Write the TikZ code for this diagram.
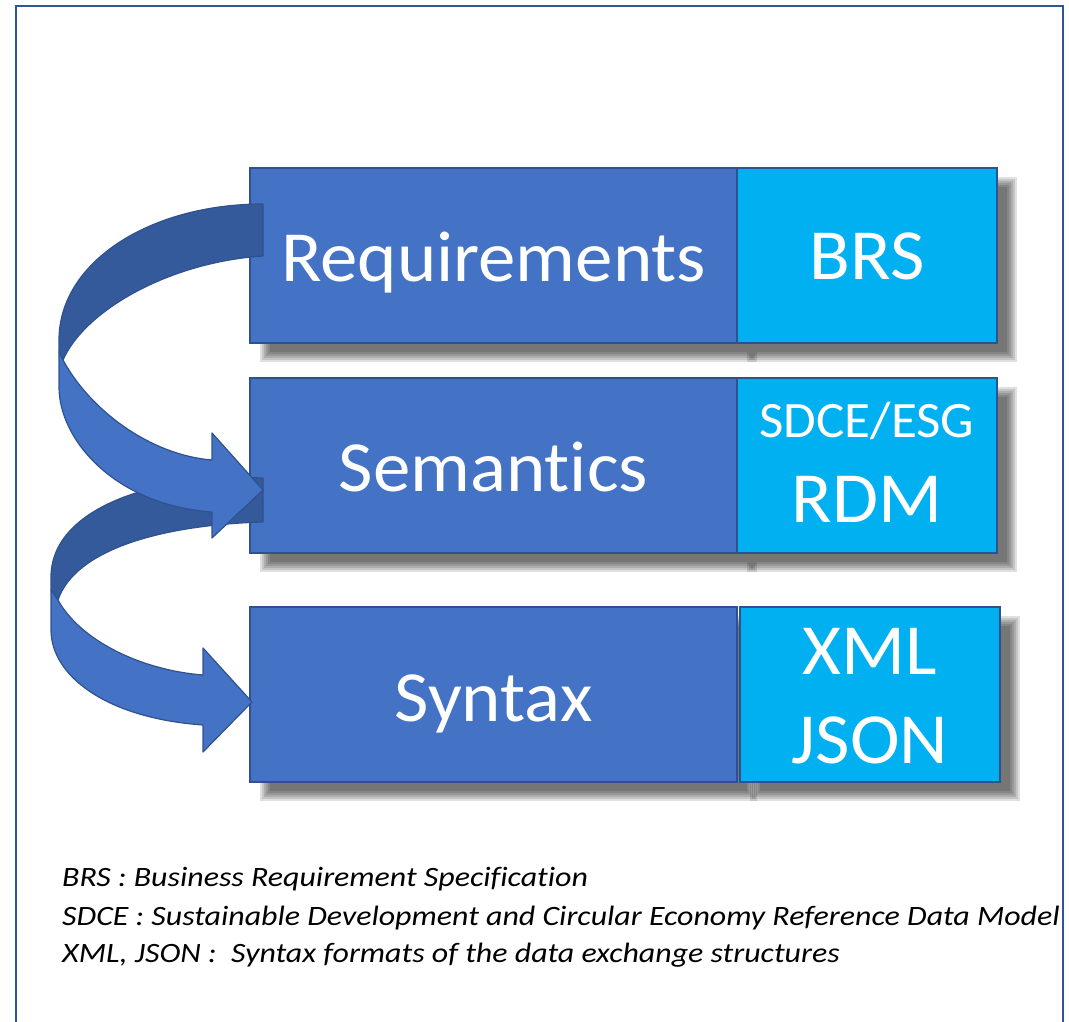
\documentclass[tikz,border=0pt]{standalone}
\usepackage{fontspec}
\setmainfont{Carlito}[Ligatures={NoCommon,NoContextual}, FakeStretch=1.04]
\newfontfamily\notefont{Carlito}[Ligatures={NoCommon,NoContextual}, FakeStretch=1.14]
\usetikzlibrary{calc,backgrounds}

\definecolor{layerblue}{HTML}{4472C4}
\definecolor{codeblue}{HTML}{00B0F0}
\definecolor{edgeblue}{HTML}{2F528F}
\definecolor{backblue}{HTML}{355A9B}
\definecolor{framecol}{HTML}{2F5597}

\tikzset{
  layer/.style={draw=edgeblue, line width=1.5pt, fill=layerblue, outer sep=0pt,
    minimum width=487pt, minimum height=175pt, inner sep=0pt},
  code/.style={draw=edgeblue, line width=1.5pt, fill=codeblue, outer sep=0pt,
    minimum width=260pt, minimum height=175pt, inner sep=0pt},
  big/.style={text=white, font=\fontsize{72}{72}\selectfont, anchor=base, inner sep=0pt},
  small/.style={text=white, font=\fontsize{51}{51}\selectfont, anchor=base, inner sep=0pt},
  note/.style={font=\notefont\itshape\fontsize{28}{28}\selectfont, anchor=base west, inner sep=0pt},
  ribbonback/.style={fill=backblue, draw=edgeblue, line width=1.2pt, line join=round},
  ribbonfront/.style={fill=layerblue, draw=edgeblue, line width=1.2pt, line join=round},
}

% soft grey shadow behind a box
\newcommand\boxshadow[1]{%
  \foreach \b in {-5,-3,...,5}
    \fill[black, opacity=.12] ($(#1.north west)+(15+\b,14+\b)$) rectangle ($(#1.south east)+(15-\b,14-\b)$);
}

\begin{document}
\begin{tikzpicture}[x=1pt, y=-1pt]
\useasboundingbox (0,0) rectangle (1069,1022);

% frame, open at the bottom
\draw[framecol, line width=2.5pt] (16,1030) -- (16,6) -- (1063,6) -- (1063,1030);

% the three layers
\node[layer] (req) at (493.5,255.5) {};
\node[code, anchor=west] (brs) at (req.east) {};
\node[layer] (sem) at (493.5,465.5) {};
\node[code, anchor=west] (rdm) at (sem.east) {};
\node[layer] (syn) at (493.5,694.5) {};
\node[code, anchor=west] (fmt) at ($(syn.east)+(3,0)$) {};

\begin{pgfonlayer}{background}
  \foreach \n in {req,brs,sem,rdm,syn,fmt} { \boxshadow{\n} }
\end{pgfonlayer}

\node[big] (reqtxt) at ($(req)+(0,25.5)$) {Requirements};
\node[big] (brstxt) at ($(brs)+(0,23.5)$) {BRS};
\node[big] (semtxt) at ($(sem)+(0,25.5)$) {Semantics};
\node[small] (sdcetxt) at ($(rdm)+(0,-28.5)$) {SDCE/ESG};
\node[big] (rdmtxt) at ($(rdm)+(0,56.5)$) {RDM};
\node[big] (syntxt) at ($(syn)+(0,26.5)$) {Syntax};
\node[big] (xmltxt) at ($(fmt)+(0,-20.5)$) {XML};
\node[big] (jsontxt) at ($(fmt)+(0,68.5)$) {JSON};

% semantics -> syntax
\coordinate (s2tail) at (263,478);
\coordinate (s2tip) at (252,702);
\draw[ribbonback] (s2tail) .. controls (150,474) and (51,510) .. (51,577)
  -- (51,590) -- (58,600) .. controls (75,550) and (160,525) .. (263,522) -- cycle;
\draw[ribbonfront] (51,590) -- (51,630) .. controls (51,675) and (105,718) .. (203,725)
  -- (203,752) -- (s2tip) -- (203,648) -- (203,675)
  .. controls (140,670) and (80,640) .. (58,600) -- cycle;

% requirements -> semantics
\coordinate (s1tail) at (263,204);
\coordinate (s1tip) at (263,490);
\draw[ribbonback] (s1tail) .. controls (150,204) and (59,262) .. (59,340)
  -- (59,352) -- (63,360) .. controls (85,310) and (170,262) .. (263,256) -- cycle;
\draw[ribbonfront] (59,352) -- (59,387) .. controls (59,440) and (115,505) .. (212,512)
  -- (212,538) -- (s1tip) -- (212,433) -- (212,460)
  .. controls (150,455) and (90,410) .. (63,360) -- cycle;

% legend
\node[note] (brsnote) at (62,886) {BRS : Business Requirement Specification};
\node[note] (sdcenote) at (62,925) {SDCE : Sustainable Development and Circular Economy Reference Data Model};
\node[note] (fmtnote) at (62,962) {XML, JSON :\ \ Syntax formats of the data exchange structures};
\end{tikzpicture}
\end{document}
